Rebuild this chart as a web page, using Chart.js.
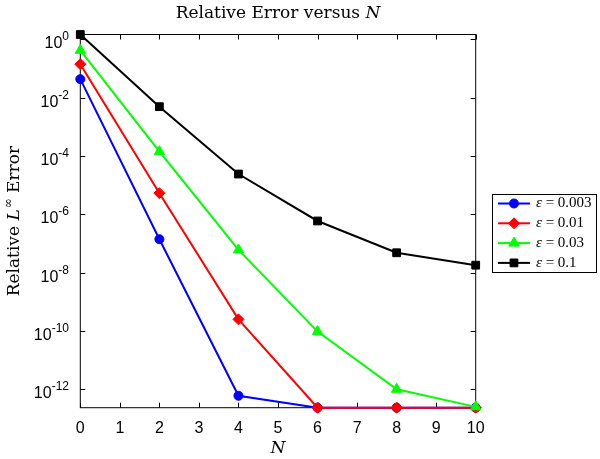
<!DOCTYPE html>
<html>
<head>
<meta charset="utf-8">
<script src="https://cdn.jsdelivr.net/npm/chart.js@4/dist/chart.umd.min.js"></script>
<style>
  html, body { margin: 0; padding: 0; background: #fff; }
  #wrap { width: 600px; height: 459px; }
</style>
</head>
<body>
<div id="wrap"><canvas id="chart"></canvas></div>
<script>
// values
const nValues = [0, 2, 4, 6, 8, 10];
const epsLabels = ["0.003", "0.01", "0.03", "0.1"];
const err003 = [0.043, 1.4e-7, 6e-13, 2.34e-13, 2.34e-13, 2.34e-13];
const err01 = [0.14, 5.3e-6, 2.5e-10, 2.34e-13, 2.34e-13, 2.34e-13];
const err03 = [0.42, 1.4e-4, 6e-8, 9.5e-11, 1e-12, 2.5e-13];
const err1 = [1.46, 4.9e-3, 2.4e-5, 5.9e-7, 4.8e-8, 1.8e-8];
const yExponents = [0, -2, -4, -6, -8, -10, -12];
const xTicks = [0, 1, 2, 3, 4, 5, 6, 7, 8, 9, 10];

const colors = ["#0000ff", "#ff0000", "#00ff00", "#000000"];
const styles = ["circle", "rectRot", "triangle", "rect"];
const radii = [4.5, 5.5, 6, 5.5];
const series = [err003, err01, err03, err1];

const sans = "'Liberation Sans', Arial, sans-serif";
const serif = "'DejaVu Serif', 'Liberation Serif', serif";
const legendSerif = "'Liberation Serif', serif";

const datasets = series.map((s, i) => ({
    label: "\u03B5 = " + epsLabels[i],
    data: s.map((v, j) => ({ x: nValues[j], y: v })),
    borderColor: colors[i],
    backgroundColor: colors[i],
    borderWidth: 2,
    pointStyle: styles[i],
    pointRadius: radii[i],
    pointBorderWidth: 1,
    pointBorderColor: colors[i],
    tension: 0,
    clip: false,
    order: 4 - i
}));

const framePlugin = {
    id: "frame",
    beforeDatasetsDraw(chart) {
        const { ctx, chartArea: a, scales } = chart;
        ctx.save();
        ctx.strokeStyle = "#000";
        ctx.lineWidth = 1;
        ctx.strokeRect(a.left, a.top, a.right - a.left, a.bottom - a.top);
        // inward ticks
        ctx.beginPath();
        xTicks.forEach(t => {
            const px = Math.round(scales.x.getPixelForValue(t)) + 0.5;
            ctx.moveTo(px, a.bottom); ctx.lineTo(px, a.bottom - 5);
            ctx.moveTo(px, a.top); ctx.lineTo(px, a.top + 5);
        });
        yExponents.forEach(e => {
            const py = Math.round(scales.y.getPixelForValue(Math.pow(10, e))) + 0.5;
            ctx.moveTo(a.left, py); ctx.lineTo(a.left + 5, py);
            ctx.moveTo(a.right, py); ctx.lineTo(a.right - 5, py);
        });
        ctx.stroke();
        ctx.restore();
    },
    afterDraw(chart) {
        const { ctx, chartArea: a, scales } = chart;
        ctx.save();
        ctx.fillStyle = "#000";
        // x tick labels
        ctx.font = "16px " + sans;
        ctx.textAlign = "center";
        ctx.textBaseline = "alphabetic";
        xTicks.forEach(t => {
            ctx.fillText(String(t), scales.x.getPixelForValue(t), 433);
        });
        // y tick labels, 10 with raised exponent
        yExponents.forEach(e => {
            const py = scales.y.getPixelForValue(Math.pow(10, e));
            const sup = e === 0 ? "0" : "-" + Math.abs(e);
            ctx.font = "12px " + sans;
            const wSup = ctx.measureText(sup).width;
            ctx.font = "16px " + sans;
            const wBase = ctx.measureText("10").width;
            const right = 69;
            ctx.textAlign = "left";
            ctx.textBaseline = "alphabetic";
            ctx.fillText("10", right - wSup - wBase, py + 9);
            ctx.font = "12px " + sans;
            ctx.fillText(sup, right - wSup, py + 1);
        });
        // title
        const cx = (a.left + a.right) / 2;
        const fs = 17;
        ctx.textBaseline = "middle";
        ctx.font = fs + "px " + serif;
        const t1 = "Relative Error versus ";
        const w1 = ctx.measureText(t1).width;
        ctx.font = "italic " + fs + "px " + serif;
        const w2 = ctx.measureText("N").width;
        let sx = cx - (w1 + w2) / 2;
        ctx.textAlign = "left";
        ctx.font = fs + "px " + serif;
        ctx.fillText(t1, sx, 14);
        ctx.font = "italic " + fs + "px " + serif;
        ctx.fillText("N", sx + w1, 14);
        // x axis title
        ctx.textAlign = "center";
        ctx.fillText("N", cx, 449);
        // y axis title
        ctx.save();
        ctx.translate(15, (a.top + a.bottom) / 2);
        ctx.rotate(-Math.PI / 2);
        ctx.textAlign = "left";
        ctx.font = fs + "px " + serif;
        const p1 = "Relative ";
        const p3 = " Error";
        const wp1 = ctx.measureText(p1).width;
        const wp3 = ctx.measureText(p3).width;
        ctx.font = "italic " + fs + "px " + serif;
        const wL = ctx.measureText("L").width;
        ctx.font = "12px " + serif;
        const wInf = ctx.measureText("\u221E").width;
        let ox = -(wp1 + wL + wInf + 1 + wp3) / 2;
        ctx.font = fs + "px " + serif;
        ctx.fillText(p1, ox, 0);
        ctx.font = "italic " + fs + "px " + serif;
        ctx.fillText("L", ox + wp1, 0);
        ctx.font = "12px " + serif;
        ctx.fillText("\u221E", ox + wp1 + wL + 1, -6);
        ctx.font = fs + "px " + serif;
        ctx.fillText(p3, ox + wp1 + wL + wInf + 1, 0);
        ctx.restore();
        // legend
        const lx = 492.5, ly = 194.5, lw = 104, lh = 78;
        ctx.fillStyle = "#fff";
        ctx.fillRect(lx, ly, lw, lh);
        ctx.strokeStyle = "#000";
        ctx.lineWidth = 1;
        ctx.strokeRect(lx, ly, lw, lh);
        datasets.forEach((d, i) => {
            const ry = 203.5 + i * 19.8;
            ctx.strokeStyle = d.borderColor;
            ctx.lineWidth = 2;
            ctx.beginPath();
            ctx.moveTo(498, ry); ctx.lineTo(530, ry);
            ctx.stroke();
            ctx.fillStyle = d.backgroundColor;
            ctx.lineWidth = 1;
            Chart.helpers.drawPoint(ctx, { pointStyle: d.pointStyle, radius: d.pointRadius, borderWidth: 1, rotation: 0 }, 514, ry);
            ctx.fillStyle = "#000";
            ctx.textBaseline = "middle";
            ctx.textAlign = "left";
            ctx.font = "italic 15px " + legendSerif;
            ctx.fillText("\u03B5", 536, ry);
            const we = ctx.measureText("\u03B5").width;
            ctx.font = "15px " + legendSerif;
            ctx.fillText(" = " + epsLabels[i], 536 + we, ry);
        });
        ctx.restore();
    }
};

new Chart(document.getElementById("chart"), {
    type: "line",
    data: { datasets },
    options: {
        responsive: true,
        maintainAspectRatio: false,
        animation: false,
        layout: { padding: { top: 34.5, right: 124.3, left: 0, bottom: 0 } },
        plugins: {
            legend: { display: false },
            tooltip: { enabled: false }
        },
        scales: {
            x: {
                type: "linear",
                min: 0,
                max: 10,
                grid: { display: false, drawTicks: false },
                border: { display: false },
                ticks: { display: false },
                afterFit: s => { s.height = 51.3; }
            },
            y: {
                type: "logarithmic",
                min: 2.34e-13,
                max: 1.46,
                grid: { display: false, drawTicks: false },
                border: { display: false },
                ticks: { display: false },
                afterFit: s => { s.width = 80.3; }
            }
        }
    },
    plugins: [framePlugin]
});
</script>
</body>
</html>
